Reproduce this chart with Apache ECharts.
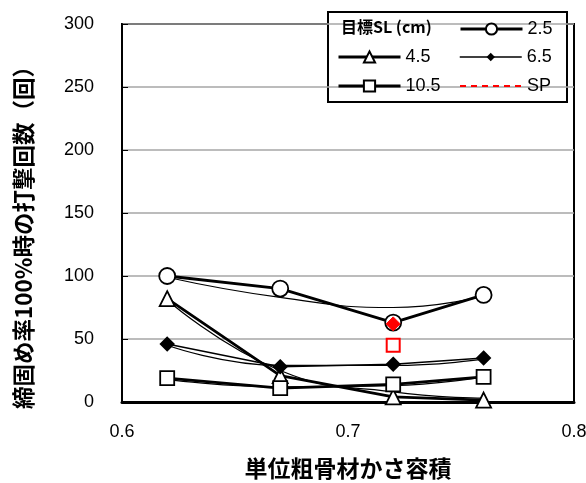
<!DOCTYPE html>
<html><head><meta charset="utf-8">
<script src="https://cdn.jsdelivr.net/npm/echarts@6/dist/echarts.min.js"></script>
<style>html,body{margin:0;padding:0;background:#fff}#c{width:586px;height:483px}</style>
</head><body><div id="c"></div>
<script>
const xValues = [0.62, 0.67, 0.72, 0.76];
const sl25 = [100, 90, 63, 85];
const sl45 = [82, 21, 4, 1.5];
const sl65 = [46, 28, 30, 35];
const sl105 = [19, 11, 14, 20];
const trend25 = [99, 83, 75, 84];
const trend45 = [81, 25, 8, 3];
const trend65 = [45, 29, 29, 34];
const trend105 = [18, 12, 13, 20];
const spX = 0.72;
const spDiamond = 62;
const spSquare = 45;
const yTicks = [0, 50, 100, 150, 200, 250, 300];
const xTicks = [0.6, 0.7, 0.8];

const pair = arr => xValues.map((x, i) => [x, arr[i]]);
const numFont = 'Liberation Sans';
const cjk = '"Noto Sans CJK JP"';

const chart = echarts.init(document.getElementById('c'));
function mainSeries(name, arr, symbol, size, width, fill) {
  return {
    name, type: 'line', data: pair(arr), symbol, symbolSize: size, z: 5,
    lineStyle: {color: '#000', width},
    itemStyle: {color: fill, borderColor: '#000', borderWidth: 1.8},
    emphasis: {disabled: true}, animation: false
  };
}
function trendSeries(arr) {
  return {
    type: 'line', data: pair(arr), symbol: 'none', smooth: 0.5, z: 3,
    lineStyle: {color: '#000', width: 1.2}, animation: false, silent: true
  };
}
const legendBase = {
  orient: 'horizontal', itemWidth: 62, itemHeight: 14, itemGap: 0,
  textStyle: {fontFamily: numFont, fontSize: 18, color: '#000', padding: [0, 0, 0, 0]},
  selectedMode: false, padding: 0
};
chart.setOption({
  animation: false,
  grid: {left: 122, right: 12, top: 24, bottom: 81, show: true, borderColor: '#000', borderWidth: 2,
    outerBoundsMode: 'none', containLabel: false},
  xAxis: {
    type: 'value', min: 0.6, max: 0.8, interval: 0.1,
    name: '単位粗骨材かさ容積', nameLocation: 'middle', nameGap: 55,
    nameTextStyle: {fontFamily: cjk, fontSize: 23, fontWeight: 'bold', color: '#000'},
    axisLine: {show: true, lineStyle: {color: '#000', width: 3}},
    axisTick: {show: false},
    axisLabel: {fontFamily: numFont, fontSize: 18, color: '#000', margin: 21,
      formatter: v => xTicks.includes(Math.round(v * 10) / 10) ? v.toFixed(1) : ''},
    splitLine: {show: false}
  },
  yAxis: {
    type: 'value', min: 0, max: 300, interval: 50,
    axisLine: {show: true, lineStyle: {color: '#000', width: 2}},
    axisTick: {show: true, inside: true, length: 6, lineStyle: {color: '#000'}},
    axisLabel: {fontFamily: numFont, fontSize: 18, color: '#000', margin: 28,
      formatter: v => yTicks.includes(v) ? String(v) : ''},
    splitLine: {show: true, lineStyle: {color: '#a6a6a6', width: 1.5}}
  },
  legend: [
    Object.assign({}, legendBase, {data: [{name: '2.5', lineStyle: {width: 3}}], left: 459, top: 20}),
    Object.assign({}, legendBase, {data: [{name: '4.5', lineStyle: {width: 3}}], left: 337, top: 48}),
    Object.assign({}, legendBase, {data: [{name: '6.5', lineStyle: {width: 1.5}}], itemHeight: 7, left: 459, top: 48}),
    Object.assign({}, legendBase, {data: [{name: '10.5', lineStyle: {width: 3}}], left: 337, top: 77}),
    Object.assign({}, legendBase, {data: [{name: 'SP', itemStyle: {opacity: 0}, lineStyle: {width: 2}}], left: 459, top: 77})
  ],
  graphic: [
    {type: 'rect', z: 0, shape: {x: 328, y: 12, width: 239, height: 90},
      style: {fill: '#fff', stroke: '#000', lineWidth: 2}},
    {type: 'text', z: 10, left: 341, top: 19,
      style: {text: '目標SL (cm)', font: 'bold 16px "Noto Sans CJK JP"', fill: '#000'}},
    {type: 'text', z: 10, x: 23, y: 232, rotation: Math.PI / 2, originX: 0, originY: 0,
      style: {text: '締固め率100%時の打撃回数（回）', font: 'bold 22.5px "Noto Sans CJK JP"', fill: '#000',
        align: 'center', verticalAlign: 'middle'}}
  ],
  series: [
    trendSeries(trend25), trendSeries(trend45), trendSeries(trend65), trendSeries(trend105),
    mainSeries('2.5', sl25, 'circle', 16, 2.8, '#fff'),
    mainSeries('4.5', sl45, 'triangle', 15, 2.8, '#fff'),
    mainSeries('6.5', sl65, 'diamond', 13, 1.5, '#000'),
    mainSeries('10.5', sl105, 'rect', 14, 2.8, '#fff'),
    {name: 'SP', type: 'line', data: [], symbol: 'none',
      lineStyle: {color: '#ff0000', width: 2, type: [6, 5]}, itemStyle: {color: '#ff0000'}},
    {type: 'line', data: [[spX, spDiamond]], symbol: 'diamond', symbolSize: 14, z: 6,
      itemStyle: {color: '#ff0000', borderColor: '#ff0000'}, lineStyle: {width: 0}},
    {type: 'line', data: [[spX, spSquare]], symbol: 'rect', symbolSize: 13, z: 6,
      itemStyle: {color: '#fff', borderColor: '#ff0000', borderWidth: 2}, lineStyle: {width: 0}}
  ]
});
</script></body></html>
